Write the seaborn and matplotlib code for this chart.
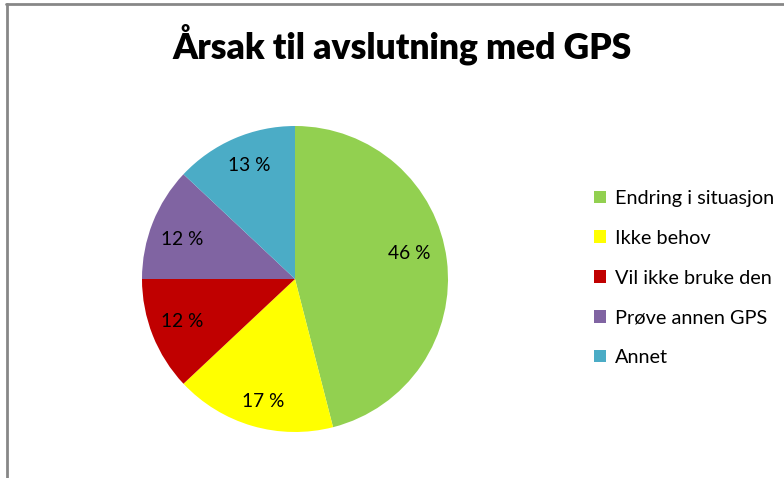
import matplotlib
matplotlib.use("Agg")
import matplotlib.pyplot as plt
import seaborn as sns
from matplotlib.patches import Rectangle

categories = ["Endring i situasjon", "Ikke behov", "Vil ikke bruke den", "Prøve annen GPS", "Annet"]
values = [46, 17, 12, 12, 13]
title = "Årsak til avslutning med GPS"

sns.set_theme(style="white")
plt.rcParams['font.family'] = ['Lato', 'DejaVu Sans']
plt.rcParams['text.color'] = 'black'

colors = ["#92D050", "#FFFF00", "#C00000", "#8064A2", "#4BACC6"]
# label placement (in pie-radius units), mimicking the "best fit" of the original
label_xy = [(0.75, 0.165), (-0.21, -0.80), (-0.74, -0.28), (-0.74, 0.26), (-0.30, 0.745)]

fig = plt.figure(figsize=(7.84, 4.78), dpi=100)
ax = fig.add_axes([(295 - 153) / 784, 1 - (279 + 153) / 478, 306 / 784, 306 / 478])

wedges, texts, autotexts = ax.pie(
    values, colors=colors, startangle=90, counterclock=False,
    autopct=lambda p: f"{p:.0f} %", pctdistance=0.8,
    wedgeprops=dict(linewidth=0), textprops=dict(fontsize=13.8, color="black"))
for t, (x, y) in zip(autotexts, label_xy):
    t.set_position((x, y))
ax.set_xlim(-1, 1)
ax.set_ylim(-1, 1)
ax.set_aspect("equal")

fig.text(402 / 784, 1 - 44 / 478, title, ha="center", va="center", fontsize=25.5,
         fontweight="heavy", color="black")

handles = [Rectangle((0, 0), 1, 1, facecolor=c, edgecolor="none") for c in colors]
leg = fig.legend(handles, categories, loc="center left", bbox_to_anchor=(584 / 784, 1 - 278 / 478),
                 frameon=False, fontsize=14.3, handlelength=0.6, handleheight=0.6,
                 handletextpad=0.45, labelspacing=1.15, borderpad=0, labelcolor="black")

# chart border (top and left visible)
fig.add_artist(plt.Line2D([6 / 784, 1], [1 - 4 / 478, 1 - 4 / 478], color="#878787", linewidth=2, transform=fig.transFigure))
fig.add_artist(plt.Line2D([7 / 784, 7 / 784], [0, 1 - 4 / 478], color="#878787", linewidth=2, transform=fig.transFigure))

fig.savefig("out.png", dpi=100)
